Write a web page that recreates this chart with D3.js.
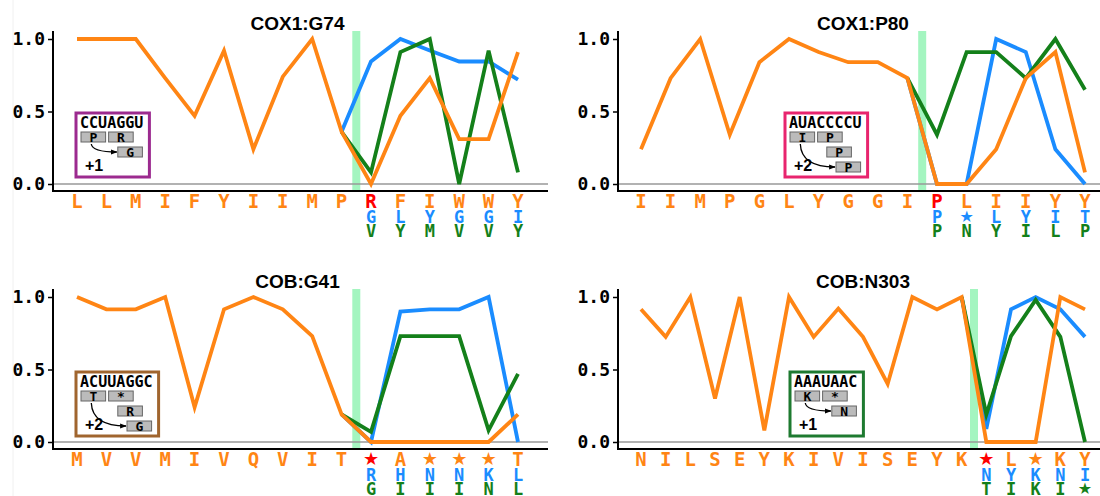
<!DOCTYPE html>
<html>
<head>
<meta charset="utf-8">
<script src="https://cdn.jsdelivr.net/npm/d3@7"></script>
<style>
  body { margin: 0; background: #fff; }
  svg { display: block; }
</style>
</head>
<body>
<div id="chart"></div>
<script>
// frame 0 residues (orange row), frames +1/+2 (blue / green rows)
const g74Aa = ["L","L","M","I","F","Y","I","I","M","P","R","F","I","W","W","Y"];
const g74Blue = ["G","L","Y","G","G","I"];
const g74Green = ["V","Y","M","V","V","Y"];
const g74Orange = [1.0,1.0,1.0,0.73,0.47,0.92,0.24,0.74,1.0,0.36,0.0,0.47,0.73,0.31,0.31,0.91];
const g74BlueVals = [0.36,0.845,1.0,0.92,0.845,0.845,0.72];
const g74GreenVals = [0.36,0.08,0.91,1.0,0.0,0.92,0.08];

const p80Aa = ["I","I","M","P","G","L","Y","G","G","I","P","L","I","I","Y","Y"];
const p80Blue = ["P","★","L","Y","I","T"];
const p80Green = ["P","N","Y","I","L","P"];
const p80Orange = [0.24,0.73,1.0,0.34,0.84,1.0,0.91,0.84,0.84,0.73,0.0,0.0,0.24,0.73,0.91,0.08];
const p80BlueVals = [0.73,0.0,0.0,1.0,0.91,0.24,0.0];
const p80GreenVals = [0.73,0.34,0.91,0.91,0.73,1.0,0.65];

const g41Aa = ["M","V","V","M","I","V","Q","V","I","T","★","A","★","★","★","T"];
const g41Blue = ["R","H","N","N","K","L"];
const g41Green = ["G","I","I","I","N","L"];
const g41Orange = [1.0,0.915,0.915,1.0,0.24,0.915,1.0,0.915,0.73,0.19,0.0,0.0,0.0,0.0,0.0,0.19];
const g41BlueVals = [0.19,0.0,0.9,0.915,0.915,1.0,0.0];
const g41GreenVals = [0.19,0.07,0.73,0.73,0.73,0.08,0.47];

const n303Aa = ["N","I","L","S","E","Y","K","I","V","I","S","E","Y","K","★","L","★","K","Y"];
const n303Blue = ["N","Y","K","N","I"];
const n303Green = ["T","I","K","I","★"];
const n303Orange = [0.915,0.725,1.0,0.30,1.0,0.08,1.0,0.725,0.92,0.725,0.40,1.0,0.915,1.0,0.0,0.0,0.0,1.0,0.915];
const n303BlueVals = [1.0,0.09,0.915,1.0,0.915,0.725];
const n303GreenVals = [1.0,0.19,0.73,0.98,0.725,0.0];

// inset diagrams: mRNA, codon boxes [aa, nt start, row], shift
const g74Seq = "CCUAGGU", g74Codons = [["P",0,0],["R",3,0],["G",4,1]];
const p80Seq = "AUACCCCU", p80Codons = [["I",0,0],["P",3,0],["P",4,1],["P",5,2]];
const g41Seq = "ACUUAGGC", g41Codons = [["T",0,0],["*",3,0],["R",4,1],["G",5,2]];
const n303Seq = "AAAUAAC", n303Codons = [["K",0,0],["*",3,0],["N",4,1]];

const ORANGE = "#ff8514", BLUE = "#1a8cff", GREEN = "#14801a", RED = "#ff0000";
const MONO = "'DejaVu Sans Mono', monospace";
const SANS = "'Liberation Sans', Arial, sans-serif";

const panels = [
  { title: "COX1:G74", aa: g74Aa, f1: g74Blue, f2: g74Green, orange: g74Orange, blue: g74BlueVals, green: g74GreenVals,
    split: 9, col: 0, row: 0, seq: g74Seq, codons: g74Codons, shift: "+1", inset: [76, 113], box: "#9c2a8f" },
  { title: "COX1:P80", aa: p80Aa, f1: p80Blue, f2: p80Green, orange: p80Orange, blue: p80BlueVals, green: p80GreenVals,
    split: 9, col: 1, row: 0, seq: p80Seq, codons: p80Codons, shift: "+2", inset: [785, 113], box: "#e8246e" },
  { title: "COB:G41", aa: g41Aa, f1: g41Blue, f2: g41Green, orange: g41Orange, blue: g41BlueVals, green: g41GreenVals,
    split: 9, col: 0, row: 1, seq: g41Seq, codons: g41Codons, shift: "+2", inset: [76, 372], box: "#a0652e" },
  { title: "COB:N303", aa: n303Aa, f1: n303Blue, f2: n303Green, orange: n303Orange, blue: n303BlueVals, green: n303GreenVals,
    split: 13, col: 1, row: 1, seq: n303Seq, codons: n303Codons, shift: "+1", inset: [790, 372], box: "#1e7a30" }
];

const cols = [
  { axisX: 53, right: 548, p0: 77, p1: 518 },
  { axisX: 618, right: 1100, p0: 641, p1: 1085 }
];
const rowsY = [
  { top: 31, y1: 39, y0: 184, base: 191 },
  { top: 289, y1: 297, y0: 442, base: 449 }
];

const svg = d3.select("#chart").append("svg")
  .attr("width", 1100).attr("height", 496);

// faint page edge seen on the left of the original
svg.append("line")
  .attr("x1", 13).attr("x2", 13).attr("y1", 0).attr("y2", 496)
  .attr("stroke", "#f0f0f0").attr("stroke-width", 1);

svg.append("defs").append("marker")
  .attr("id", "arr").attr("viewBox", "0 0 10 10")
  .attr("refX", 9).attr("refY", 5)
  .attr("markerWidth", 5).attr("markerHeight", 5)
  .attr("orient", "auto")
  .append("path").attr("d", "M0,1 L10,5 L0,9 z").attr("fill", "#000");

panels.forEach(p => drawPanel(p));

function drawPanel(p) {
  const c = cols[p.col], r = rowsY[p.row];
  const g = svg.append("g");

  const x = d3.scalePoint().domain(d3.range(p.aa.length)).range([c.p0, c.p1]);
  const y = d3.scaleLinear().domain([0, 1]).range([r.y0, r.y1]);

  // title
  g.append("text")
    .attr("x", (c.p0 + c.p1) / 2).attr("y", r.top - 1)
    .attr("text-anchor", "middle")
    .style("font", `bold 19px ${SANS}`)
    .text(p.title);

  // frameshift site band
  const bx = (x(p.split) + x(p.split + 1)) / 2;
  g.append("rect")
    .attr("x", bx - 4).attr("y", r.top)
    .attr("width", 8).attr("height", r.base - r.top)
    .attr("fill", "#a4f5c0");

  // zero reference line
  g.append("line")
    .attr("x1", c.axisX).attr("x2", c.right)
    .attr("y1", y(0)).attr("y2", y(0))
    .attr("stroke", "#999").attr("stroke-width", 1.5);

  // axes
  const ax = g.append("g")
    .attr("transform", `translate(${c.axisX},0)`)
    .call(d3.axisLeft(y).tickValues([0, 0.5, 1]).tickFormat(d3.format(".1f")).tickSize(5).tickPadding(3));
  ax.select(".domain").remove();
  ax.selectAll(".tick line").attr("stroke", "#000").attr("stroke-width", 1.5);
  ax.selectAll(".tick text")
    .style("font", `bold 18px ${MONO}`).attr("fill", "#000");

  g.append("line")
    .attr("x1", c.axisX).attr("x2", c.axisX)
    .attr("y1", r.top).attr("y2", r.base + 1)
    .attr("stroke", "#000").attr("stroke-width", 2);
  g.append("line")
    .attr("x1", c.axisX - 1).attr("x2", c.right)
    .attr("y1", r.base).attr("y2", r.base)
    .attr("stroke", "#000").attr("stroke-width", 2);

  // inset diagram
  drawInset(g, p);

  // lines: blue, green under orange
  const line = d3.line().x(d => x(d[0])).y(d => y(d[1])).curve(d3.curveLinear);
  const sub = vals => vals.map((v, i) => [p.split + i, v]);
  [[sub(p.blue), BLUE], [sub(p.green), GREEN], [p.orange.map((v, i) => [i, v]), ORANGE]]
    .forEach(([pts, col]) => {
      g.append("path")
        .attr("d", line(pts))
        .attr("fill", "none")
        .attr("stroke", col)
        .attr("stroke-width", 3.8)
        .attr("stroke-linejoin", "miter");
    });

  // residue labels
  const b = r.base;
  const fontFor = (d, size) => d === "★"
    ? `bold ${size - 1}px 'DejaVu Sans', ${MONO}` : `bold ${size}px ${MONO}`;
  g.selectAll(".aa0").data(p.aa).enter().append("text")
    .attr("x", (d, i) => x(i)).attr("y", d => b + (d === "★" ? 16 : 17))
    .attr("text-anchor", "middle")
    .style("font", d => fontFor(d, 19))
    .attr("fill", (d, i) => i === p.split + 1 ? RED : ORANGE)
    .text(d => d);
  g.selectAll(".aa1").data(p.f1).enter().append("text")
    .attr("x", (d, i) => x(p.split + 1 + i)).attr("y", d => b + (d === "★" ? 31 : 32))
    .attr("text-anchor", "middle")
    .style("font", d => fontFor(d, 17))
    .attr("fill", BLUE)
    .text(d => d);
  g.selectAll(".aa2").data(p.f2).enter().append("text")
    .attr("x", (d, i) => x(p.split + 1 + i)).attr("y", d => b + (d === "★" ? 45 : 46))
    .attr("text-anchor", "middle")
    .style("font", d => fontFor(d, 17))
    .attr("fill", GREEN)
    .text(d => d);
}

function drawInset(g, p) {
  const [ix, iy] = p.inset;
  const adv = 9.2;
  const w = p.seq.length * adv + 9, h = 64;
  const ig = g.append("g");
  ig.append("rect")
    .attr("x", ix).attr("y", iy).attr("width", w).attr("height", h)
    .attr("fill", "#fff").attr("stroke", p.box).attr("stroke-width", 3);

  const tx = ix + 4;
  ig.append("text")
    .attr("x", tx).attr("y", iy + 15)
    .attr("textLength", p.seq.length * adv - 1)
    .style("font", `bold 15px ${MONO}`)
    .text(p.seq);

  const rowTop = k => iy + 19 + k * 15;
  p.codons.forEach(([aa, s, k]) => {
    const cx = tx + s * adv + 1;
    ig.append("rect")
      .attr("x", cx).attr("y", rowTop(k))
      .attr("width", 3 * adv - 3).attr("height", 10)
      .attr("fill", "#bbb").attr("stroke", "#666").attr("stroke-width", 1);
    ig.append("text")
      .attr("x", cx + (3 * adv - 3) / 2).attr("y", rowTop(k) + 10)
      .attr("text-anchor", "middle")
      .style("font", `bold 13px ${MONO}`)
      .text(aa);
  });

  // arrow from first codon to shifted codon
  const first = p.codons[0], last = p.codons[p.codons.length - 1];
  const sx = tx + first[1] * adv + 1 + (3 * adv - 3) / 2 - 2;
  const sy = rowTop(0) + 12;
  const ex = tx + last[1] * adv;
  const ey = rowTop(last[2]) + 5;
  ig.append("path")
    .attr("d", `M${sx},${sy} Q${sx + 1},${ey} ${ex},${ey}`)
    .attr("fill", "none").attr("stroke", "#000").attr("stroke-width", 1.3)
    .attr("marker-end", "url(#arr)");

  ig.append("text")
    .attr("x", ix + 9).attr("y", iy + 58)
    .style("font", `bold 16px ${SANS}`)
    .text(p.shift);
}
</script>
</body>
</html>
